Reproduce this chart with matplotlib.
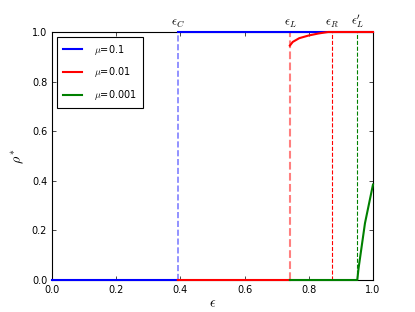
import numpy as np
import matplotlib
matplotlib.use("Agg")
import matplotlib.pyplot as plt

# thresholds
eps_C, eps_L, eps_R, eps_Lp = 0.392, 0.741, 0.871, 0.951

# mu = 0.1 (nan = jump, not drawn)
x_blue = [0.0, 0.392, np.nan, 0.392, 1.0]
y_blue = [0.0, 0.0, np.nan, 1.0, 1.0]
# mu = 0.01
x_red = [0.392, 0.741, np.nan, 0.741, 0.75, 0.77, 0.80, 0.83, 0.86, 1.0]
y_red = [0.0, 0.0, np.nan, 0.945, 0.96, 0.975, 0.986, 0.994, 1.0, 1.0]
# mu = 0.001
x_green = [0.741, 0.951, 0.955, 0.975, 1.0]
y_green = [0.0, 0.0, 0.047, 0.229, 0.385]

plt.rcParams['mathtext.fontset'] = 'cm'
fig = plt.figure(figsize=(4.15, 3.12), dpi=100)
ax = fig.add_axes([52/415, 32/312, 321/415, 248/312])

ax.plot(x_blue, y_blue, color='blue', lw=1.5, label=r'$\mu$=0.1', clip_on=False, zorder=3)
ax.plot(x_red, y_red, color='red', lw=1.5, label=r'$\mu$=0.01', clip_on=False, zorder=3)
ax.plot(x_green, y_green, color='green', lw=1.5, label=r'$\mu$=0.001', clip_on=False, zorder=3)

ax.axvline(eps_C, color='blue', ls='--', lw=1.2, alpha=0.5)
ax.axvline(eps_L, color='red', ls='--', lw=1.5, alpha=0.5)
ax.axvline(eps_R, color='red', ls='--', lw=0.8)
ax.axvline(eps_Lp, color='green', ls='--', lw=0.8)

for xv, lab in [(eps_C, r'$\epsilon_C$'), (eps_L, r'$\epsilon_L$'),
                (eps_R, r'$\epsilon_R$'), (eps_Lp, r"$\epsilon_L'$")]:
    ax.text(xv, 1.008, lab, ha='center', va='bottom', fontsize=9)

ax.set_xlim(0, 1)
ax.set_ylim(0, 1)
ax.set_xticks(np.arange(0, 1.01, 0.2))
ax.set_yticks(np.arange(0, 1.01, 0.2))
ax.tick_params(labelsize=7, direction='in', length=3, width=0.5)
ax.tick_params(top=True, right=True)
for s in ax.spines.values():
    s.set_linewidth(0.8)
ax.set_xlabel(r'$\epsilon$', fontsize=10, labelpad=1)
ax.set_ylabel(r'$\rho^*$', fontsize=10, rotation=90)

leg = ax.legend(loc='upper left', fontsize=7, fancybox=False, framealpha=1,
                handlelength=2.0, borderpad=0.6, labelspacing=0.9, handletextpad=1.2)
leg.get_frame().set_edgecolor('black')
leg.get_frame().set_linewidth(0.8)

fig.savefig('out.png', dpi=100)
